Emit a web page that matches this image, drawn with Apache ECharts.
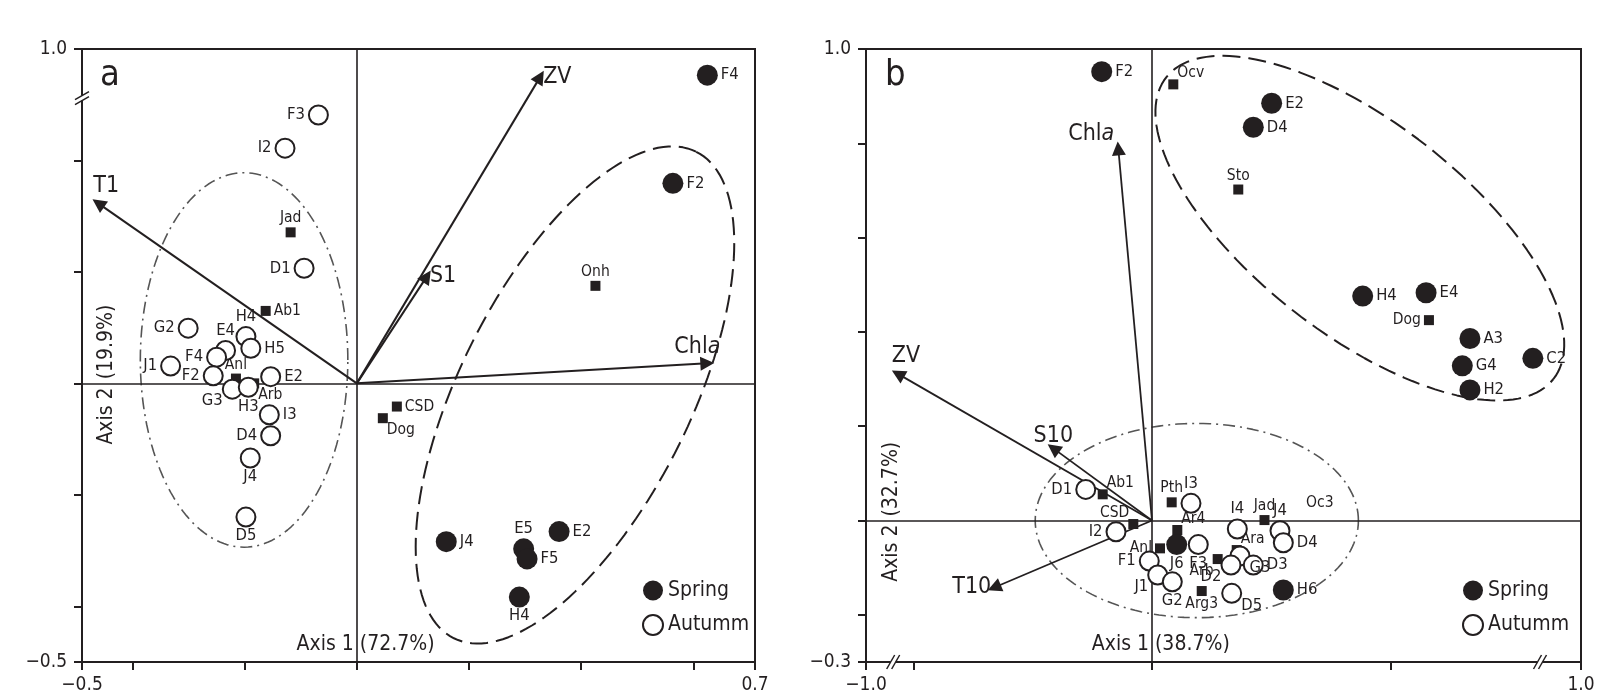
<!DOCTYPE html>
<html><head><meta charset="utf-8">
<script src="https://cdn.jsdelivr.net/npm/echarts@6/dist/echarts.min.js"></script>
<style>html,body{margin:0;padding:0;background:#fff}#c{width:1611px;height:699px}</style>
</head><body><div id="c"></div>
<script>
// ---------------- Panel a data ----------------
const aSpringNames = ['F4','F2','J4','E5','F5','E2','H4'];
const aSpringX = [0.625, 0.5636, 0.1595, 0.2975, 0.3036, 0.3607, 0.2898];
const aSpringY = [0.553, 0.359, -0.284, -0.297, -0.315, -0.266, -0.3835];
const aSpringLab = ['r','r','r','t','r','r','b'];

const aAutNames = ['F3','I2','D1','G2','H4','H5','E4','F4','J1','F2','E2','G3','H3','I3','D4','J4','D5'];
const aAutX = [-0.0685,-0.128,-0.094,-0.3007,-0.1977,-0.189,-0.234,-0.25,-0.332,-0.256,-0.1536,-0.222,-0.1935,-0.156,-0.1536,-0.19,-0.1977];
const aAutY = [0.4816,0.422,0.2066,0.099,0.084,0.063,0.059,0.047,0.031,0.0135,0.012,-0.0104,-0.007,-0.0565,-0.094,-0.134,-0.24];
const aAutLab = ['l','l','l','l','t','r','t','l','l','l','r','bl','b','r','l','b','b'];

const aSpeNames = ['Jad','Ab1','Anl','Arb','CSD','Dog','Onh'];
const aSpeX = [-0.118,-0.1625,-0.2155,-0.183,0.0714,0.0464,0.4255];
const aSpeY = [0.271,0.130,0.0086,0.0,-0.0416,-0.0625,0.175];
const aSpeLab = ['t','r','t','br','r','br','t'];

const aEnvNames = ['T1','ZV','S1','Chla'];
const aEnvX = [-0.461, 0.327, 0.125, 0.625];
const aEnvY = [0.323, 0.550, 0.192, 0.036];
const aEnvLab = ['ta','r','r','tc'];

// group outlines: centre, radii, rotation (deg)
const aAutumnGroup = [-0.201, 0.042, 0.185, 0.336, 0];
const aSpringGroup = [0.389, -0.0208, 0.487, 0.206, 63.7];

// ---------------- Panel b data ----------------
const bSpringNames = ['F2','E2','D4','H4','E4','A3','G4','H2','C2','J6','H6'];
const bSpringX = [-0.1055,0.251,0.2125,0.442,0.575,0.667,0.651,0.667,0.799,0.0518,0.2755];
const bSpringY = [0.952,0.885,0.834,0.476,0.483,0.386,0.328,0.277,0.344,-0.051,-0.1474];
const bSpringLab = ['r','r','r','r','r','r','r','r','r','b','r'];

const bAutNames = ['D1','I2','I3','F3','F1','J1','G2','I4','J4','D4','G3','D2','D3','D5'];
const bAutX = [-0.139,-0.0755,0.0818,0.0971,-0.0057,0.012,0.0426,0.179,0.2685,0.2755,0.1846,0.1657,0.2125,0.1672];
const bAutY = [0.066,-0.0238,0.0365,-0.051,-0.086,-0.1156,-0.130,-0.018,-0.0216,-0.047,-0.0753,-0.0944,-0.0944,-0.1544];
const bAutLab = ['l','l','t','b','l','bl','b','t','t','r','br','bl','r','br'];

const bSpeNames = ['Ocv','Sto','Dog','Ab1','CSD','Pth','Ar4','Anl','Jad','Ara','Arb','Arg3','Oc3'];
const bSpeX = [0.0447,0.181,0.581,-0.1034,-0.0392,0.0413,0.0531,0.0168,0.236,0.1777,0.1378,0.1043,0.352];
const bSpeY = [0.925,0.702,0.425,0.0556,-0.0074,0.0386,-0.0201,-0.059,0.001,-0.0626,-0.0817,-0.1495,0.037];
const bSpeLab = ['tr','t','l','tr','tl','t','tr','l','t','tr','bl','b','c'];

const bEnvNames = ['ZV','Chla','S10','T10'];
const bEnvX = [-0.533,-0.0707,-0.207,-0.331];
const bEnvY = [0.311,0.789,0.153,-0.142];
const bEnvLab = ['ta','tl2','t','l'];

const bSpringGroup = [0.436, 0.620, 0.517, 0.224, -38.3];
const bAutumnGroup = [0.094, 0.0, 0.339, 0.206, 0];

// axis text
const aAxis1 = ['Axis 1', '(72.7%)'];
const aAxis2 = ['Axis 2', '(19.9%)'];
const bAxis1 = ['Axis 1', '(38.7%)'];
const bAxis2 = ['Axis 2', '(32.7%)'];

// ---------------- styles ----------------
const FONT = "'Liberation Sans Narrow','DejaVu Sans Condensed','Roboto Condensed',Roboto,sans-serif";
const INK = '#231f20';
const GA = {left:82, top:49, width:673, height:613};
const GB = {left:866, top:49, width:715, height:613};

const LPOS = {
  l:{position:'left',distance:3}, r:{position:'right',distance:3},
  t:{position:'top',distance:1}, b:{position:'bottom',distance:0},
  tl:{position:'left',distance:1,offset:[2,-11]}, tr:{position:'right',distance:1,offset:[-2,-11]},
  bl:{position:'left',distance:1,offset:[2,12]}, br:{position:'right',distance:1,offset:[-2,12]},
  c:{position:'inside'},
  ta:{position:'top',distance:6,offset:[8,0]}, tc:{position:'top',distance:5,offset:[-10,0]},
  tl2:{position:'left',distance:4,offset:[0,-14]}
};

function makePts(names, xs, ys, labs, fontSize) {
  return names.map((n,i) => {
    const lp = LPOS[labs[i]];
    const item = {name:n, value:[xs[i], ys[i]],
      label: Object.assign({show:true, formatter:'{b}', color:INK, fontFamily:FONT, fontSize:fontSize}, lp)};
    if (labs[i] === 'c') item.symbolSize = 0;
    return item;
  });
}
function outline(g, n) {
  const [cx, cy, rx, ry, rot] = g;
  const t = rot * Math.PI / 180, out = [];
  for (let k = 0; k <= n; k++) {
    const a = 2 * Math.PI * k / n;
    const ux = rx * Math.cos(a), uy = ry * Math.sin(a);
    out.push([cx + ux * Math.cos(t) - uy * Math.sin(t), cy + ux * Math.sin(t) + uy * Math.cos(t)]);
  }
  return out;
}

function panelSeries(gi, d) {
  const base = {xAxisIndex:gi, yAxisIndex:gi, animation:false};
  return [
    Object.assign({type:'line', name:'g1'+gi, data:outline(d.autG, 160), symbol:'none', silent:true, z:1,
      lineStyle:{color:'#555', width:1.6, type:[12,5,2,5]}}, base),
    Object.assign({type:'line', name:'g2'+gi, data:outline(d.sprG, 160), symbol:'none', silent:true, z:1,
      lineStyle:{color:INK, width:2, type:[18,8]}}, base),
    Object.assign({type:'scatter', name:'zero'+gi, data:[], silent:true, z:2,
      markLine:{silent:true, symbol:'none', label:{show:false}, animation:false,
        lineStyle:{color:INK, width:1.6, type:'solid'}, data:[{xAxis:0},{yAxis:0}]}}, base),
    Object.assign({type:'lines', name:'env'+gi, coordinateSystem:'cartesian2d', z:3, silent:true,
      symbol:['none','triangle'], symbolSize:14,
      lineStyle:{color:INK, width:d.envW, opacity:1},
      data: d.envX.map((x,i) => ({coords:[[0,0],[x, d.envY[i]]]}))}, base),
    Object.assign({type:'scatter', name:'envlab'+gi, symbolSize:0, z:4, silent:true,
      itemStyle:{opacity:1},
      data: d.envN.map((n,i) => ({name:n, value:[d.envX[i], d.envY[i]],
        label:Object.assign({show:true, color:INK, opacity:1,
          formatter: p => p.name === 'Chla' ? '{n|Chl}{i|a}' : '{n|' + p.name + '}',
          rich:{n:{fontFamily:FONT, fontSize:23, color:INK}, i:{fontFamily:FONT, fontSize:23, fontStyle:'italic', color:INK}}
        }, LPOS[d.envL[i]])}))}, base),
    Object.assign({type:'scatter', name:'Species', symbol:'rect', symbolSize:10, z:5,
      itemStyle:{color:INK, opacity:1},
      data: makePts(d.speN, d.speX, d.speY, d.speL, 15.5)}, base),
    Object.assign({type:'scatter', name:'Autumm', symbol:'circle', symbolSize:19, z:6,
      itemStyle:{color:'#fff', borderColor:INK, borderWidth:2, opacity:1},
      data: makePts(d.autN, d.autX, d.autY, d.autL, 16.5)}, base),
    Object.assign({type:'scatter', name:'Spring', symbol:'circle', symbolSize:21, z:7,
      itemStyle:{color:INK, opacity:1},
      data: makePts(d.sprN, d.sprX, d.sprY, d.sprL, 16.5)}, base)
  ];
}

const A = {autG:aAutumnGroup, sprG:aSpringGroup, envX:aEnvX, envY:aEnvY, envN:aEnvNames, envL:aEnvLab, envW:2,
  speN:aSpeNames, speX:aSpeX, speY:aSpeY, speL:aSpeLab, autN:aAutNames, autX:aAutX, autY:aAutY, autL:aAutLab,
  sprN:aSpringNames, sprX:aSpringX, sprY:aSpringY, sprL:aSpringLab};
const B = {autG:bAutumnGroup, sprG:bSpringGroup, envX:bEnvX, envY:bEnvY, envN:bEnvNames, envL:bEnvLab, envW:1.8,
  speN:bSpeNames, speX:bSpeX, speY:bSpeY, speL:bSpeLab, autN:bAutNames, autX:bAutX, autY:bAutY, autL:bAutLab,
  sprN:bSpringNames, sprX:bSpringX, sprY:bSpringY, sprL:bSpringLab};

const axisText = {color:INK, fontFamily:FONT, fontSize:19};
function valAxis(gi, min, max, ticks, labels, names, isX) {
  return {type:'value', gridIndex:gi, min:min, max:max,
    axisLine:{show:true, onZero:false, lineStyle:{color:INK, width:2}},
    axisTick:{show:true, length:8, lineStyle:{color:INK, width:2}, customValues:ticks},
    axisLabel:Object.assign({show:true, margin:isX ? 14 : 15, customValues:labels,
      formatter: v => names[labels.indexOf(v)] || ''}, axisText),
    splitLine:{show:false}};
}

const chart = echarts.init(document.getElementById('c'), null, {renderer:'canvas'});
const legendBase = {orient:'vertical', itemWidth:20, itemHeight:20, itemGap:13, selectedMode:false,
  textStyle:{color:INK, fontFamily:FONT, fontSize:21},
  data:[{name:'Spring', icon:'circle', itemStyle:{color:INK}},
        {name:'Autumm', icon:'circle', itemStyle:{color:'#fff', borderColor:INK, borderWidth:2}}]};
chart.setOption({
  backgroundColor:'#fff', animation:false,
  grid:[Object.assign({show:true, borderColor:INK, borderWidth:2}, GA),
        Object.assign({show:true, borderColor:INK, borderWidth:2}, GB)],
  xAxis:[valAxis(0, -0.49, 0.71, [-0.49,-0.4,-0.2,0,0.2,0.4,0.6,0.71], [-0.49,0.71], ['\u22120.5','0.7'], true),
         valAxis(1, -0.6, 0.9, [-0.6,-0.5,0,0.5,0.9], [-0.6,0.9], ['\u22121.0','1.0'], true)],
  yAxis:[valAxis(0, -0.5, 0.6, [-0.5,-0.4,-0.2,0,0.2,0.4,0.6], [-0.5,0.6], ['\u22120.5','1.0'], false),
         valAxis(1, -0.3, 1.0, [-0.3,-0.2,0,0.2,0.4,0.6,0.8,1.0], [-0.3,1.0], ['\u22120.3','1.0'], false)],
  legend:[Object.assign({left:637, top:575}, legendBase), Object.assign({left:1457, top:575}, legendBase)],
  series: panelSeries(0, A).concat(panelSeries(1, B))
});

// ---------------- annotations ----------------
function txt(x, y, s, opt) {
  return Object.assign({type:'text', x:x, y:y, silent:true, z:50,
    style:Object.assign({text:s, fill:INK, font:'21px ' + FONT, align:'left', verticalAlign:'middle'}, opt || {})});
}
function vBreak(x, y) {
  return [{type:'rect', z:60, shape:{x:x-4, y:y-2.5, width:8, height:5}, style:{fill:'#fff'}},
    {type:'line', z:61, shape:{x1:x-7, y1:y-2.5+4, x2:x+7, y2:y-2.5-4}, style:{stroke:INK, lineWidth:1.5}},
    {type:'line', z:61, shape:{x1:x-7, y1:y+2.5+4, x2:x+7, y2:y+2.5-4}, style:{stroke:INK, lineWidth:1.5}}];
}
function hBreak(x, y) {
  return [{type:'rect', z:60, shape:{x:x-2.5, y:y-4, width:5, height:8}, style:{fill:'#fff'}},
    {type:'line', z:61, shape:{x1:x-2.5-4, y1:y+7, x2:x-2.5+4, y2:y-7}, style:{stroke:INK, lineWidth:1.5}},
    {type:'line', z:61, shape:{x1:x+2.5-4, y1:y+7, x2:x+2.5+4, y2:y-7}, style:{stroke:INK, lineWidth:1.5}}];
}
const za = chart.convertToPixel({gridIndex:0}, [0, 0]);
const zb = chart.convertToPixel({gridIndex:1}, [0, 0]);
const aBrk = chart.convertToPixel({gridIndex:0}, [-0.49, 0.512]);
const bBrk1 = chart.convertToPixel({gridIndex:1}, [-0.543, -0.3]);
const bBrk2 = chart.convertToPixel({gridIndex:1}, [0.814, -0.3]);
const axY = GA.top + GA.height - 17;
const g = [
  txt(za[0]-3, axY, aAxis1[0], {align:'right'}), txt(za[0]+3, axY, aAxis1[1]),
  txt(zb[0]-3, axY, bAxis1[0], {align:'right'}), txt(zb[0]+3, axY, bAxis1[1]),
  Object.assign(txt(GA.left+25, za[1]+4, aAxis2[0], {align:'right'}), {rotation:Math.PI/2}),
  Object.assign(txt(GA.left+25, za[1]-4, aAxis2[1], {align:'left'}), {rotation:Math.PI/2}),
  Object.assign(txt(GB.left+26, zb[1]+4, bAxis2[0], {align:'right'}), {rotation:Math.PI/2}),
  Object.assign(txt(GB.left+26, zb[1]-4, bAxis2[1], {align:'left'}), {rotation:Math.PI/2}),
  txt(GA.left+18, 76, 'a', {font:'36px ' + FONT}),
  txt(GB.left+19, 76, 'b', {font:'36px ' + FONT})
].concat(vBreak(aBrk[0], aBrk[1]), hBreak(bBrk1[0], bBrk1[1]), hBreak(bBrk2[0], bBrk2[1]));
chart.setOption({graphic:g});
</script>
</body></html>
